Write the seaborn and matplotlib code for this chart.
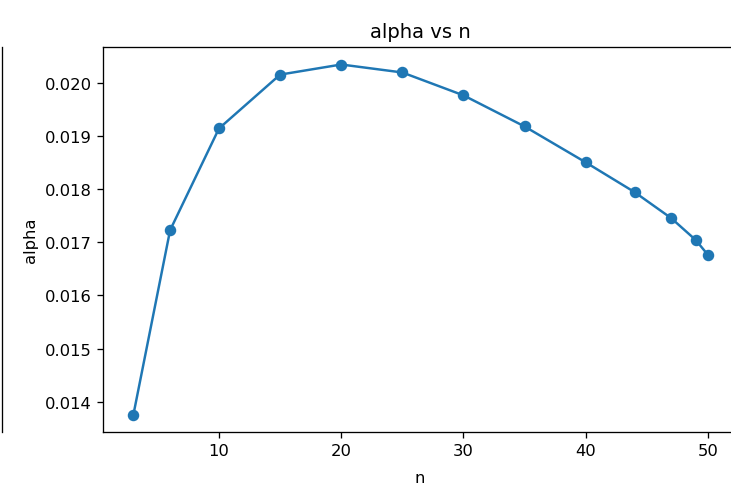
import matplotlib
matplotlib.use("Agg")
import matplotlib.pyplot as plt
from matplotlib.lines import Line2D
import seaborn as sns
import pandas as pd

n_values = [3, 6, 10, 15, 20, 25, 30, 35, 40, 44, 47, 49, 50]
alpha_values = [0.01376, 0.017225, 0.019138, 0.02015, 0.02034, 0.02019,
                0.01976, 0.019175, 0.0185, 0.01794, 0.01745, 0.01704, 0.01676]

df = pd.DataFrame({"n": n_values, "alpha": alpha_values})

DPI = 118
fig = plt.figure(figsize=(731 / DPI, 486 / DPI), dpi=DPI)
W, H = 731, 486
ax = fig.add_axes([103 / W, 1 - 433 / H, (745 - 103) / W, (433 - 48) / H])

sns.lineplot(data=df, x="n", y="alpha", ax=ax, marker="o", color="#1f77b4",
             markersize=6, markeredgecolor="#1f77b4", markeredgewidth=1,
             linewidth=1.5)

ax.set_title("alpha vs n", x=(420 - 103) / (745 - 103))
ax.set_xlabel("n")
ax.xaxis.set_label_coords((420 - 103) / (745 - 103), -0.1)
ax.set_ylabel("alpha")
ax.set_xlim(0.51, 53.03)
ax.set_xticks([10, 20, 30, 40, 50])
ax.set_yticks([0.014, 0.015, 0.016, 0.017, 0.018, 0.019, 0.020])
ax.set_yticklabels(["0.014", "0.015", "0.016", "0.017", "0.018", "0.019", "0.020"])
ax.spines["right"].set_visible(False)

# fragment of neighbouring panel's spine at the left edge
fig.add_artist(Line2D([1.5 / W, 1.5 / W], [1 - 433 / H, 1 - 48 / H],
                      transform=fig.transFigure, color="black", linewidth=0.8))

fig.savefig("out.png", dpi=DPI)
